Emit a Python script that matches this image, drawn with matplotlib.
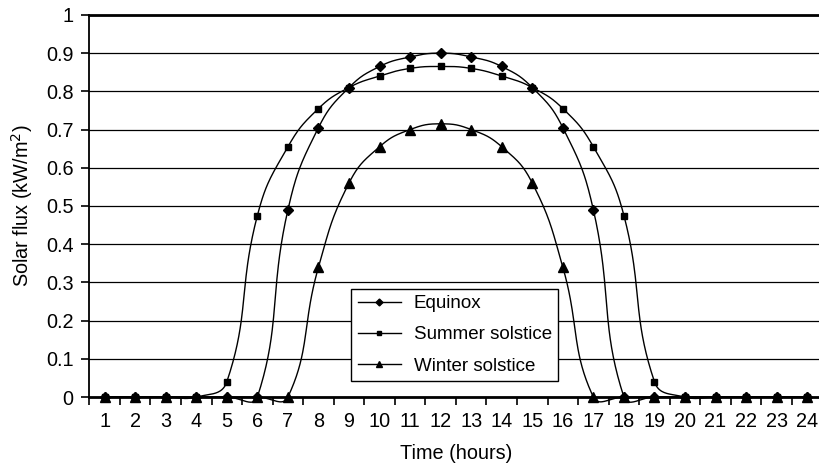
import matplotlib
matplotlib.use('Agg')
import matplotlib.pyplot as plt
import numpy as np

plt.rcParams['font.family'] = ['Liberation Sans', 'DejaVu Sans']

# hourly solar flux (kW/m2)
hours = list(range(1, 25))
equinox = [0, 0, 0, 0, 0, 0, 0.49, 0.705, 0.81, 0.865, 0.89, 0.9,
           0.89, 0.865, 0.81, 0.705, 0.49, 0, 0, 0, 0, 0, 0, 0]
summer = [0, 0, 0, 0, 0.04, 0.475, 0.655, 0.755, 0.81, 0.84, 0.86, 0.865,
          0.86, 0.84, 0.81, 0.755, 0.655, 0.475, 0.04, 0, 0, 0, 0, 0]
winter = [0, 0, 0, 0, 0, 0, 0, 0.34, 0.56, 0.655, 0.70, 0.715,
          0.70, 0.655, 0.56, 0.34, 0, 0, 0, 0, 0, 0, 0, 0]
y_ticks = [0, 0.1, 0.2, 0.3, 0.4, 0.5, 0.6, 0.7, 0.8, 0.9, 1]
y_labels = ['0', '0.1', '0.2', '0.3', '0.4', '0.5', '0.6', '0.7', '0.8', '0.9', '1']

FS = 14.3      # ticks and axis titles
FS_LEG = 13.5  # legend


def smooth(ax, x, y, f=0.45, n=40):
    # Excel-like smoothed line: Bezier segments, tangents weighted by
    # chord lengths measured in screen pixels
    to_px = ax.transData
    pts = to_px.transform(np.column_stack([x, y]))
    p = np.vstack([pts[0], pts, pts[-1]])
    d = np.linalg.norm(np.diff(p, axis=0), axis=1)
    t = np.linspace(0, 1, n)[:, None]
    out = []
    for i in range(len(pts) - 1):
        a, b = p[i + 1], p[i + 2]
        dab = d[i + 1]
        w1 = dab / (d[i] + dab) if d[i] + dab > 0 else 0
        w2 = dab / (dab + d[i + 2]) if dab + d[i + 2] > 0 else 0
        c1 = a + (b - p[i]) * f * w1
        c2 = b - (p[i + 3] - a) * f * w2
        seg = (1 - t) ** 3 * a + 3 * (1 - t) ** 2 * t * c1 \
            + 3 * (1 - t) * t ** 2 * c2 + t ** 3 * b
        out.append(seg)
    out = np.vstack(out)
    data = to_px.inverted().transform(out)
    return data[:, 0], data[:, 1]


fig = plt.figure(figsize=(8.2, 4.66), dpi=100)
ax = fig.add_axes([0.109, 0.148, 0.894, 0.82])
ax.set_xlim(0.5, 24.5)
ax.set_ylim(0, 1)

series = [(equinox, 'D', 5, 'Equinox'),
          (summer, 's', 5, 'Summer solstice'),
          (winter, '^', 7, 'Winter solstice')]
for vals, mk, ms, lab in series:
    sx, sy = smooth(ax, hours, vals)
    ax.plot(sx, sy, color='black', lw=1.0, zorder=3, clip_on=False)
    ax.plot(hours, vals, ls='none', marker=mk, ms=ms, color='black',
            zorder=4, clip_on=False)
    ax.plot([], [], color='black', lw=1.0, marker=mk, ms=ms * 0.7, label=lab)

ax.set_yticks(y_ticks)
ax.set_yticklabels(y_labels, fontsize=FS)
ax.yaxis.grid(True, color='black', lw=0.9)
ax.set_axisbelow(True)

ax.set_xticks(np.arange(0.5, 25, 1))
ax.set_xticklabels([])
ax.set_xticks(hours, minor=True)
ax.set_xticklabels([str(h) for h in hours], minor=True, fontsize=FS)
ax.tick_params(axis='x', which='major', length=5.5, width=1.2, direction='out')
ax.tick_params(axis='x', which='minor', length=0, pad=11)
ax.tick_params(axis='y', length=5.5, width=1.2, pad=6)

ax.spines['left'].set_linewidth(1.3)
ax.spines['bottom'].set_linewidth(2.0)
ax.spines['top'].set_linewidth(2.0)
ax.spines['right'].set_visible(False)

ax.set_ylabel('Solar flux (kW/m$^2$)', fontsize=FS, labelpad=8)
ax.set_xlabel('Time (hours)', fontsize=FS, labelpad=9)

leg = ax.legend(loc='lower left', bbox_to_anchor=(0.428, 0.182),
                bbox_transform=fig.transFigure, fontsize=FS_LEG, frameon=True,
                fancybox=False, edgecolor='black', framealpha=1,
                labelspacing=0.75, handlelength=2.3, borderpad=0.35,
                handletextpad=0.7, borderaxespad=0)
leg.get_frame().set_linewidth(1.0)

fig.savefig('out.png', dpi=100)
